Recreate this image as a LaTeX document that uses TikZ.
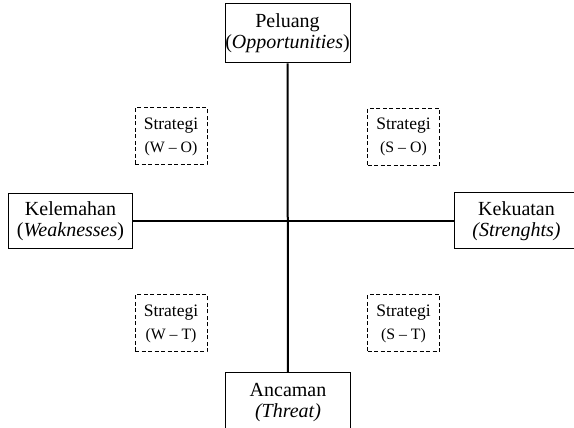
\documentclass[tikz,border=0pt]{standalone}
\usepackage{fontspec}
\setmainfont{Liberation Serif}
\begin{document}
\begin{tikzpicture}[x=0.6pt, y=-0.6pt,
  mainbox/.style={draw, line width=0.6pt, align=center, inner sep=0pt,
    minimum width=75pt, font=\fontsize{12}{12.6}\selectfont},
  stratbox/.style={draw, line width=0.6pt, dash pattern=on 2.4pt off 1.5pt,
    align=center, inner sep=0pt, minimum width=43.2pt, minimum height=34.2pt,
    font=\fontsize{10.5}{13.8}\selectfont}]
  \useasboundingbox (0,0) rectangle (574,428);
  \clip (0,0) rectangle (574,428);

  % the four sides
  \node[mainbox, minimum height=35.4pt] (opp) at (287.5,33.5) {Peluang\\(\textit{Opportunities})};
  \node[mainbox, minimum height=33pt] (weak) at (70.5,221) {Kelemahan\\(\textit{Weaknesses})};
  \node[mainbox, minimum height=33.6pt] (str) at (516.5,221) {Kekuatan\\\textit{(Strenghts)}};
  \node[mainbox, minimum height=35.4pt] (thr) at (288,402.5) {Ancaman\\\textit{(Threat)}};

  \draw[line width=1.2pt] (opp) -- (thr);
  \draw[line width=0.8pt] (weak) -- (str);

  % strategies
  \foreach \nm/\px/\py/\lab in {wo/171/136.5/W -- O, so/403.5/137/S -- O,
                                wt/171/323.5/W -- T, st/403.5/323.5/S -- T} {
    \node[stratbox] (\nm) at (\px,\py) {Strategi\\{\fontsize{9.5}{13.8}\selectfont (\lab)}};
  }
\end{tikzpicture}
\end{document}
